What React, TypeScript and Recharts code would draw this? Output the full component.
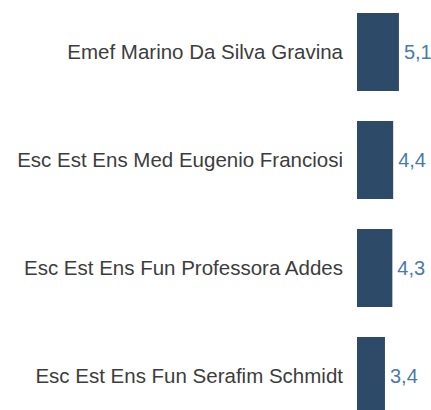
import React from "react";
import { BarChart, Bar, XAxis, YAxis, LabelList } from "recharts";

const categories = [
  "Emef Marino Da Silva Gravina",
  "Esc Est Ens Med Eugenio Franciosi",
  "Esc Est Ens Fun Professora Addes",
  "Esc Est Ens Fun Serafim Schmidt",
];
const values = [5.1, 4.4, 4.3, 3.4];

const data = categories.map((name, i) => ({ name, value: values[i] }));

export default function App() {
  return (
    <div
      style={{
        position: "fixed",
        left: 0,
        top: 0,
        width: 431,
        height: 410,
        overflow: "hidden",
        background: "#fff",
        fontFamily: "'Liberation Sans', Arial, sans-serif",
      }}
    >
      <div style={{ position: "absolute", left: 0, top: -2 }}>
        <BarChart
          width={431}
          height={432}
          data={data}
          layout="vertical"
          margin={{ top: 0, right: 0, bottom: 0, left: 0 }}
        >
          <XAxis type="number" domain={[0, 9]} hide />
          <YAxis
            type="category"
            dataKey="name"
            width={357}
            axisLine={false}
            tickLine={false}
            tickSize={0}
            tickMargin={14}
            tick={{ fill: "#3d3d3d", fontSize: 20.5, fontFamily: "'Liberation Sans', Arial, sans-serif" }}
          />
          <Bar dataKey="value" fill="#2d4a68" barSize={78} isAnimationActive={false}>
            <LabelList
              dataKey="value"
              position="right"
              offset={5}
              fill="#4a7aab"
              fontSize={20}
              fontFamily="'Liberation Sans', Arial, sans-serif"
              formatter={(v: any) => String(v).replace(".", ",")}
            />
          </Bar>
        </BarChart>
      </div>
    </div>
  );
}
